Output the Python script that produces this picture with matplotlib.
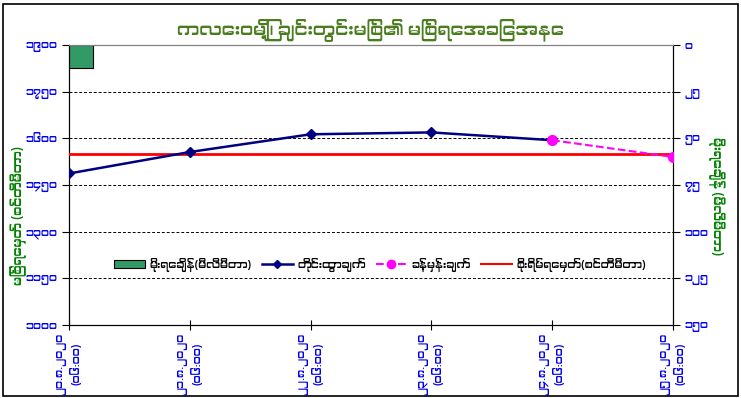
import numpy as np
import matplotlib
matplotlib.use('Agg')
import matplotlib.pyplot as plt
from matplotlib import font_manager
from matplotlib.patches import Patch, Rectangle
from matplotlib.lines import Line2D

# look for any font that has Myanmar glyphs
mm_fonts = [f.name for f in font_manager.fontManager.ttflist
            if any(k in f.name for k in ('Myanmar', 'Padauk', 'Pyidaungsu', 'Zawgyi'))]
families = sorted(set(mm_fonts))[:1] + ['Noto Sans', 'DejaVu Sans']
plt.rcParams['font.family'] = families

title = 'ကလေးဝမြို့၊ ချင်းတွင်းမြစ်၏ မြစ်ရေအခြေအနေ'
left_label = 'မြစ်ရေမှတ် (စင်တီမီတာ)'
right_label = 'မိုးရေချိန် (မီလီမီတာ)'

dates = ['၂၀.၈.၂၀၂၀\n(၀၆:၀၀)', '၂၁.၈.၂၀၂၀\n(၀၆:၀၀)', '၂၂.၈.၂၀၂၀\n(၀၆:၀၀)',
         '၂၃.၈.၂၀၂၀\n(၀၆:၀၀)', '၂၄.၈.၂၀၂၀\n(၀၆:၀၀)', '၂၅.၈.၂၀၂၀\n(၀၆:၀၀)']

rainfall = [12.5, np.nan, np.nan, np.nan, np.nan, np.nan]
observed = [1487, 1556, 1613, 1619, 1594, np.nan]
forecast = [np.nan, np.nan, np.nan, np.nan, 1594, 1540]
danger_level = 1550

left_ticks = [1000, 1150, 1300, 1450, 1600, 1750, 1900]
left_ticklabels = ['၁၀၀၀', '၁၁၅၀', '၁၃၀၀', '၁၄၅၀', '၁၆၀၀', '၁၇၅၀', '၁၉၀၀']
right_ticks = [0, 25, 50, 75, 100, 125, 150]
right_ticklabels = ['၀', '၂၅', '၅၀', '၇၅', '၁၀၀', '၁၂၅', '၁၅၀']

legend_labels = ['မိုးရေချိန်(မီလီမီတာ)', 'တိုင်းထွာချက်', 'ခန့်မှန်းချက်', 'စိုးရိမ်ရေမှတ်(စင်တီမီတာ)']

blue = '#0000ee'
green = '#008000'

fig = plt.figure(figsize=(7.41, 3.98), dpi=100)
fig.patches.append(Rectangle((0.004, 0.005), 0.992, 0.985, transform=fig.transFigure,
                             fill=False, edgecolor='black', linewidth=1.2))

ax1 = fig.add_axes([69 / 741, 73 / 398, 604 / 741, 280 / 398])
ax2 = ax1.twinx()
ax1.set_zorder(ax2.get_zorder() + 1)
ax1.patch.set_visible(False)
ax2.patch.set_facecolor('#ccffff')

x = np.arange(len(dates))

# rainfall bars on the secondary (inverted) axis
ax2.bar(x, rainfall, width=0.4, color='#339966', edgecolor='black', linewidth=0.8)
ax2.set_ylim(150, 0)
ax2.set_yticks(right_ticks)
ax2.set_yticklabels(right_ticklabels, color=blue, fontsize=8)
ax2.set_ylabel(right_label, color=green, fontsize=9, rotation=-90)
ax2.yaxis.set_label_coords(1.085, 0.46)

# water levels
ax1.axhline(danger_level, color='#ff0000', linewidth=2, zorder=3)
ax1.plot(x, observed, color='#000080', linewidth=1.8, marker='D', markersize=5, zorder=4)
ax1.plot(x, forecast, color='#ff00ff', linewidth=1.5, linestyle='--', marker='o',
         markersize=7, zorder=5)
ax1.set_ylim(1000, 1900)
ax1.set_xlim(0, len(dates) - 1)
ax1.set_yticks(left_ticks)
ax1.set_yticklabels(left_ticklabels, color=blue, fontsize=8)
ax1.set_xticks(x)
ax1.set_xticklabels(dates, rotation=90, color=blue, fontsize=8, linespacing=1.3,
                    va='top', ha='center')
ax1.set_ylabel(left_label, color=green, fontsize=9)
ax1.yaxis.set_label_coords(-0.07, 0.39)
ax1.grid(axis='y', color='black', linestyle=(0, (3, 2)), linewidth=0.7)

ax1.tick_params(axis='x', direction='inout', length=7, pad=2)
ax1.tick_params(axis='y', direction='out', length=5)
ax2.tick_params(axis='y', direction='out', length=5)
for a in (ax1, ax2):
    a.spines['top'].set_color('#808080')
    a.spines['top'].set_linewidth(0.8)

handles = [Patch(facecolor='#339966', edgecolor='black', linewidth=0.8),
           Line2D([], [], color='#000080', linewidth=1.8, marker='D', markersize=4),
           Line2D([], [], color='#ff00ff', linewidth=1.5, linestyle='--', marker='o', markersize=6),
           Line2D([], [], color='#ff0000', linewidth=1.5)]
ax1.legend(handles, legend_labels, ncol=4, frameon=False, fontsize=8,
           loc='center', bbox_to_anchor=(0.515, 0.214), handlelength=2.8,
           columnspacing=0.9, handletextpad=0.4)

fig.text(370 / 741, 1 - 30 / 398, title, color='#4a7d1e', fontsize=13,
         ha='center', va='center')

fig.savefig('out.png', dpi=100)
